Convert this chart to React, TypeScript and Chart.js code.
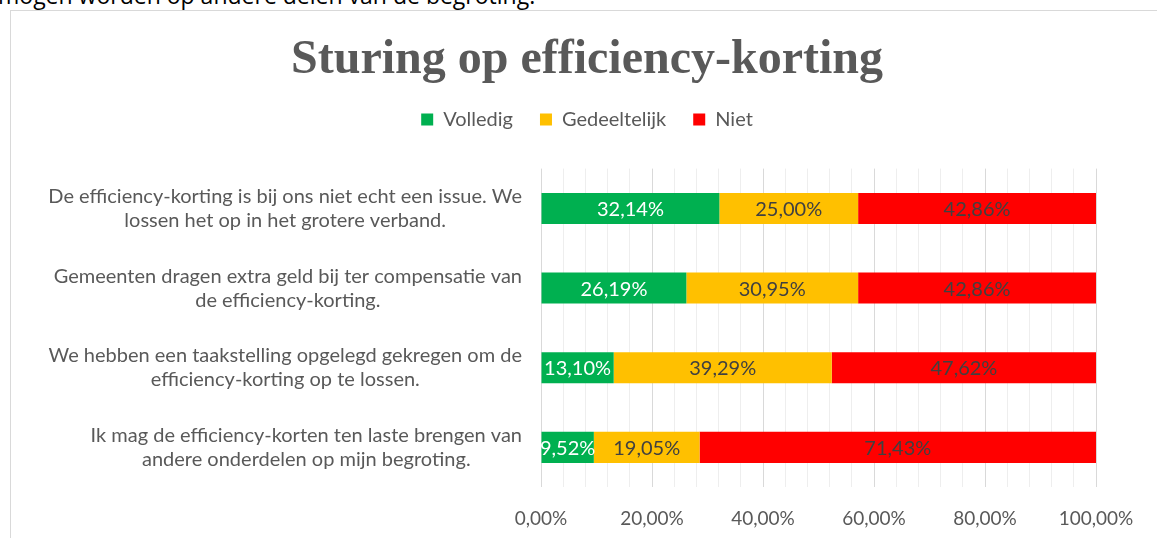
import React, { useEffect, useRef } from "react";
import { Chart, registerables } from "chart.js";

Chart.register(...registerables);

const categories: string[][] = [
  ["De efficiency-korting is bij ons niet echt een issue. We", "lossen het op in het grotere verband."],
  ["Gemeenten dragen extra geld bij ter compensatie van", "de efficiency-korting."],
  ["We hebben een taakstelling opgelegd gekregen om de", "efficiency-korting op te lossen."],
  ["Ik mag de efficiency-korten ten laste brengen van", "andere onderdelen op mijn begroting."],
];
const seriesNames = ["Volledig", "Gedeeltelijk", "Niet"];
const volledig = [32.14, 26.19, 13.1, 9.52];
const gedeeltelijk = [25.0, 30.95, 39.29, 19.05];
const niet = [42.86, 42.86, 47.62, 71.43];
const majorTicks = [0, 20, 40, 60, 80, 100];
const majorTickLabels = ["0,00%", "20,00%", "40,00%", "60,00%", "80,00%", "100,00%"];

const FONT = "Lato";
const GREY = "#595959";

const fmt = (v: number) => v.toFixed(2).replace(".", ",") + "%";

const categoryLabelPlugin = {
  id: "categoryLabels",
  afterDraw(chart: any) {
    const ctx = chart.ctx;
    const yScale = chart.scales.y;
    const rightEdge = chart.chartArea.left - 19;
    ctx.save();
    ctx.font = `20px ${FONT}`;
    ctx.fillStyle = GREY;
    ctx.textAlign = "center";
    ctx.textBaseline = "middle";
    const lineH = 24;
    categories.forEach((lines, i) => {
      const cy = yScale.getPixelForValue(i);
      const w = Math.max(...lines.map((l) => ctx.measureText(l).width));
      const cx = rightEdge - w / 2;
      const y0 = cy - ((lines.length - 1) * lineH) / 2;
      lines.forEach((l, j) => ctx.fillText(l, cx, y0 + j * lineH));
    });
    ctx.restore();
  },
};

const dataLabelPlugin = {
  id: "dataLabels",
  afterDatasetsDraw(chart: any) {
    const ctx = chart.ctx;
    ctx.save();
    ctx.font = `20px ${FONT}`;
    ctx.textAlign = "center";
    ctx.textBaseline = "middle";
    chart.data.datasets.forEach((ds: any, di: number) => {
      const meta = chart.getDatasetMeta(di);
      meta.data.forEach((el: any, i: number) => {
        const cx = (el.x + el.base) / 2;
        ctx.fillStyle = di === 0 ? "#ffffff" : "#404040";
        ctx.fillText(fmt(ds.data[i]), cx, el.y + 1);
      });
    });
    ctx.restore();
  },
};

const legendSpacer = {
  id: "legendSpacer",
  beforeInit(chart: any) {
    const legend = chart.legend;
    const orig = legend.fit;
    legend.fit = function () {
      orig.call(this);
      this.height += 29;
    };
  },
};

export default function App() {
  const ref = useRef<HTMLCanvasElement>(null);
  useEffect(() => {
    if (!ref.current) return;
    const chart = new Chart(ref.current, {
      type: "bar",
      data: {
        labels: categories.map((c) => c.join(" ")),
        datasets: [
          { label: seriesNames[0], data: volledig, backgroundColor: "#00B050" },
          { label: seriesNames[1], data: gedeeltelijk, backgroundColor: "#FFC000" },
          { label: seriesNames[2], data: niet, backgroundColor: "#FF0000" },
        ],
      },
      options: {
        indexAxis: "y",
        animation: false,
        responsive: false,
        maintainAspectRatio: false,
        layout: { padding: { left: 0, right: 0, bottom: 6, top: 0 } },
        datasets: { bar: { categoryPercentage: 1, barPercentage: 0.39 } },
        scales: {
          y: {
            stacked: true,
            display: true,
            grid: { display: false },
            border: { display: false },
            ticks: { display: false },
            afterFit: (s: any) => {
              s.width = 530;
            },
          },
          y2: {
            type: "category",
            position: "right",
            display: true,
            grid: { display: false },
            border: { display: false },
            ticks: { display: false },
            afterFit: (s: any) => {
              s.width = 67;
            },
          },
          x: {
            stacked: true,
            min: 0,
            max: 100,
            border: { display: false },
            grid: {
              drawTicks: false,
              color: (c: any) => (majorTicks.includes(c.tick?.value) ? "#d9d9d9" : "#eeeeee"),
            },
            ticks: {
              stepSize: 4,
              autoSkip: false,
              maxRotation: 0,
              padding: 20,
              color: GREY,
              font: { family: FONT, size: 19 },
              callback: (v: any) => {
                const k = majorTicks.indexOf(Number(v));
                return k >= 0 ? majorTickLabels[k] : "";
              },
            },
          },
        },
        plugins: {
          title: {
            display: true,
            text: "Sturing op efficiency-korting",
            color: GREY,
            font: { family: "Liberation Serif", size: 48, weight: "bold" },
            padding: { top: 21, bottom: -7 },
          },
          legend: {
            display: true,
            labels: {
              boxWidth: 12,
              boxHeight: 12,
              color: GREY,
              font: { family: FONT, size: 20 },
              padding: 27,
            },
          },
          tooltip: { enabled: false },
        },
      },
      plugins: [categoryLabelPlugin, dataLabelPlugin, legendSpacer],
    } as any);
    return () => chart.destroy();
  }, []);

  return (
    <div style={{ position: "fixed", top: 0, left: 0, width: 1157, height: 538, overflow: "hidden", background: "#fff" }}>
      <div
        style={{
          position: "absolute",
          left: -2,
          top: -21,
          fontFamily: "Open Sans",
          fontSize: 23,
          color: "#000",
          whiteSpace: "nowrap",
        }}
      >
        mogen worden op andere delen van de begroting.
      </div>
      <div
        style={{
          position: "absolute",
          left: 10,
          top: 10,
          width: 1170,
          height: 560,
          border: "1px solid #d9d9d9",
          boxSizing: "border-box",
        }}
      >
        <canvas ref={ref} width={1152} height={545} style={{ display: "block" }} />
      </div>
    </div>
  );
}
